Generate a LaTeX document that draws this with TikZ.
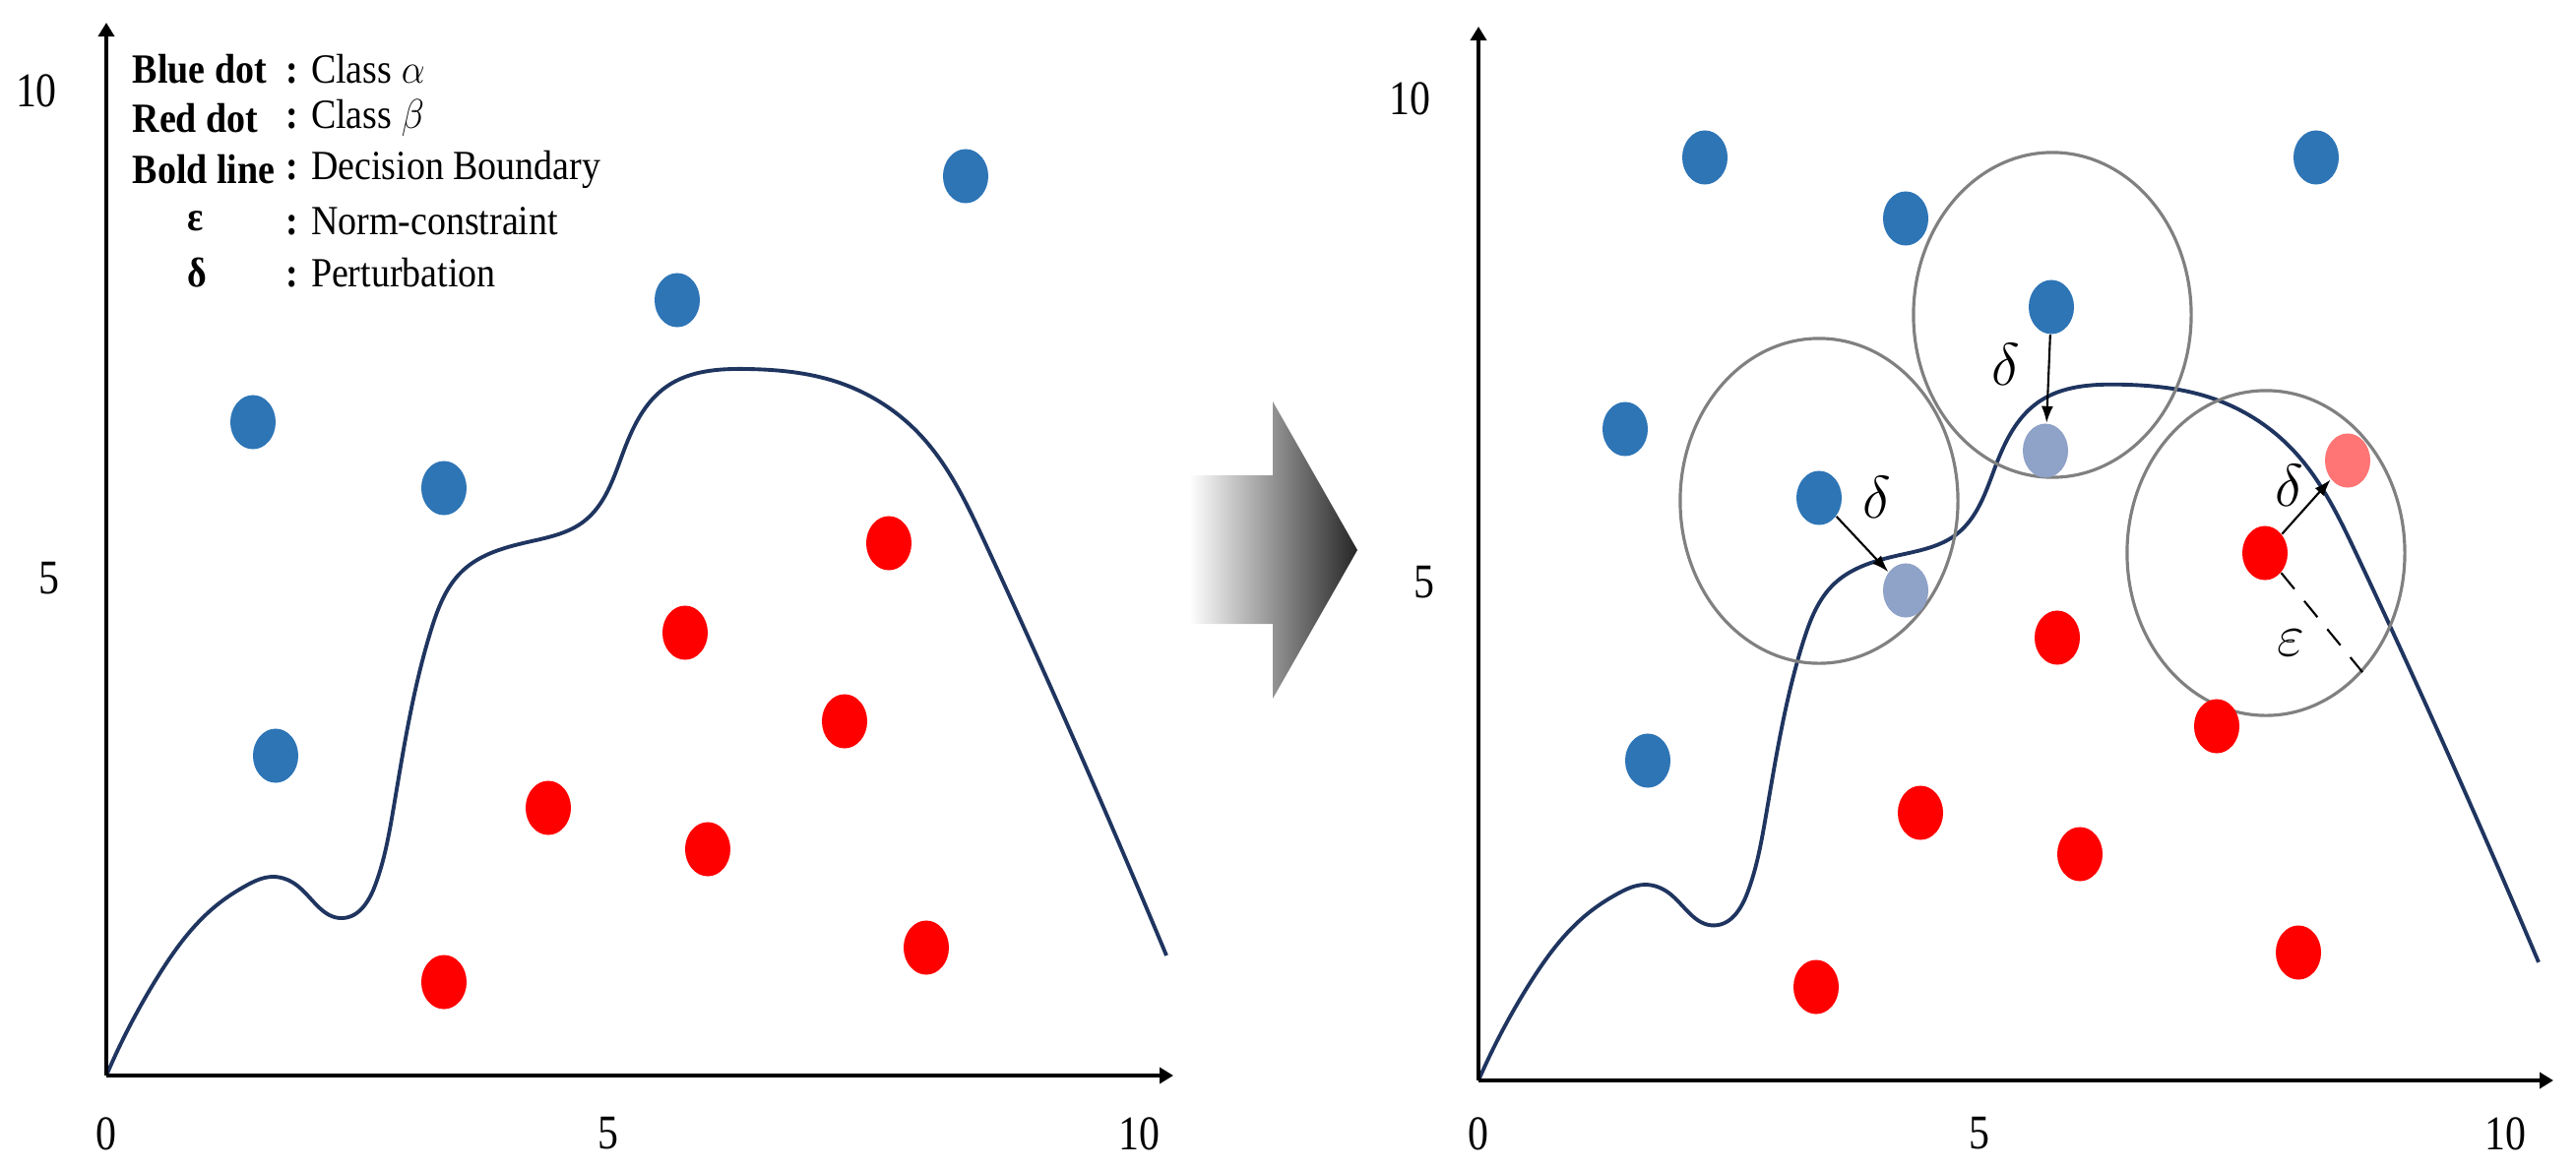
\documentclass[tikz,border=0pt]{standalone}
\usepackage{fontspec}
\setmainfont{Liberation Serif}
\usetikzlibrary{shapes.geometric,arrows.meta,hobby}
\definecolor{dotblue}{HTML}{2E75B6}
\definecolor{dotred}{HTML}{FF0000}
\definecolor{ltblue}{HTML}{8FA2C7}
\definecolor{ltred}{HTML}{FF7575}
\definecolor{bndnavy}{HTML}{1F3560}
\definecolor{ringgray}{HTML}{808080}
\newcommand\bndcurve{(108,1093) .. (160,993) .. (220,920) .. (250,900) .. (277,891) .. (302,900) .. (348,933)
 .. (381,900) .. (400,820) .. (438,640) .. (470,580) .. (540,550) .. (593,530)
 .. (633,460) .. (677,393) .. (760,375) .. (850,388) .. (933,440) .. (1000,550)
 .. (1100,772) .. (1185,971)}
\newcommand\ticklab[1]{\fontsize{14}{16}\selectfont\scalebox{0.85}[1]{#1}}
\newcommand\legtxt[1]{\scalebox{0.9}[1]{#1}}
\begin{document}
\begin{tikzpicture}[x=0.01cm,y=-0.01cm,
  dotbase/.style={ellipse, minimum width=0.46cm, minimum height=0.55cm, inner sep=0pt},
  bdot/.style={dotbase, fill=dotblue},
  rdot/.style={dotbase, fill=dotred},
  lbdot/.style={dotbase, fill=ltblue},
  lrdot/.style={dotbase, fill=ltred},
  axisline/.style={line width=1.1pt, -{Triangle[length=0.14cm,width=0.16cm]}},
  bndline/.style={bndnavy, line width=1.1pt, use Hobby shortcut},
  ring/.style={ellipse, draw=ringgray, line width=0.9pt, minimum width=2.82cm, minimum height=3.3cm, inner sep=0pt},
  parrow/.style={line width=0.6pt, -{Latex[length=0.17cm,width=0.12cm]}},
  tick/.style={inner sep=0pt},
  legname/.style={anchor=west, inner sep=0pt, font=\fontsize{12}{14}\selectfont\bfseries},
  legdesc/.style={anchor=west, inner sep=0pt, font=\fontsize{12}{14}\selectfont},
  greek/.style={inner sep=0pt, font=\fontsize{16}{18}\selectfont}
]
\useasboundingbox (0,0) rectangle (2617,1187);

% ---------- left panel ----------
\coordinate (O1) at (108,1093);
\coordinate (Y1) at (108,23);
\coordinate (X1) at (1192,1093);
\draw[bndline] \bndcurve;
\draw[axisline] (O1) -- (Y1);
\draw[axisline] (O1) -- (X1);
\node[tick] (l0) at (108,1152) {\ticklab{0}};
\node[tick] (l5) at (618,1152) {\ticklab{5}};
\node[tick] (l10) at (1157,1152) {\ticklab{10}};
\node[tick] (ly10) at (37,92) {\ticklab{10}};
\node[tick] (ly5) at (50,588) {\ticklab{5}};

\node[legname] (n1) at (134,70) {\legtxt{Blue dot}};
\node[legname] (n2) at (134,120) {\legtxt{Red dot}};
\node[legname] (n3) at (134,172) {\legtxt{Bold line}};
\node[legname] (n4) at (190,225) {\legtxt{ε}};
\node[legname] (n5) at (190,277) {\legtxt{δ}};
\node[legdesc] (d1) at (290,70) {\legtxt{\textbf{:} Class $\alpha$}};
\node[legdesc] (d2) at (290,120) {\legtxt{\textbf{:} Class $\beta$}};
\node[legdesc] (d3) at (290,172) {\legtxt{\textbf{:} Decision Boundary}};
\node[legdesc] (d4) at (290,225) {\legtxt{\textbf{:} Norm-constraint}};
\node[legdesc] (d5) at (290,277) {\legtxt{\textbf{:} Perturbation}};

\node[bdot] (lb1) at (981,179) {};
\node[bdot] (lb2) at (688,305) {};
\node[bdot] (lb3) at (257,429) {};
\node[bdot] (lb4) at (451,496) {};
\node[bdot] (lb5) at (280,768) {};
\node[rdot] (lr1) at (903,552) {};
\node[rdot] (lr2) at (696,643) {};
\node[rdot] (lr3) at (858,733) {};
\node[rdot] (lr4) at (557,821) {};
\node[rdot] (lr5) at (719,863) {};
\node[rdot] (lr6) at (941,963) {};
\node[rdot] (lr7) at (451,998) {};

% ---------- transition arrow ----------
\shade[left color=white, middle color=black!35, right color=black!85]
  (1208,483) -- (1293,483) -- (1293,408) -- (1379,559) -- (1293,710)
  -- (1293,634) -- (1208,634) -- cycle;

% ---------- right panel ----------
\coordinate (O2) at (1502,1098);
\coordinate (Y2) at (1502,27);
\coordinate (X2) at (2594,1098);
\begin{scope}[shift={(1502,1098)}, yscale=0.985, shift={(-108,-1093)}]
\draw[bndline] \bndcurve;
\end{scope}
\draw[axisline] (O2) -- (Y2);
\draw[axisline] (O2) -- (X2);
\node[tick] (r0) at (1502,1152) {\ticklab{0}};
\node[tick] (r5) at (2011,1152) {\ticklab{5}};
\node[tick] (r10) at (2545,1152) {\ticklab{10}};
\node[tick] (ry10) at (1432,100) {\ticklab{10}};
\node[tick] (ry5) at (1447,592) {\ticklab{5}};

\node[ring] (c1) at (1848,509) {};
\node[ring] (c2) at (2085,320) {};
\node[ring] (c3) at (2302,562) {};

\node[bdot] (rb1) at (1732,160) {};
\node[bdot] (rb2) at (2353,160) {};
\node[bdot] (rb3) at (1936,222) {};
\node[bdot] (rb4) at (2084,312) {};
\node[bdot] (rb5) at (1651,436) {};
\node[bdot] (rb6) at (1848,506) {};
\node[bdot] (rb7) at (1674,773) {};
\node[lbdot] (rl1) at (2078,458) {};
\node[lbdot] (rl2) at (1936,600) {};
\node[rdot] (rr1) at (2301,562) {};
\node[rdot] (rr2) at (2090,648) {};
\node[rdot] (rr3) at (2252,738) {};
\node[rdot] (rr4) at (1951,826) {};
\node[rdot] (rr5) at (2113,868) {};
\node[rdot] (rr6) at (2335,968) {};
\node[rdot] (rr7) at (1845,1003) {};
\node[lrdot] (rlr) at (2385,468) {};

\draw[parrow] (rb6) -- (rl2);
\draw[parrow] (rb4) -- (rl1);
\draw[parrow] (rr1) -- (rlr);
\draw[dash pattern=on 6pt off 4.5pt, line width=0.6pt] (rr1) -- (c3.-51);

\node[greek] (g1) at (1907,505) {$\delta$};
\node[greek] (g2) at (2038,370) {$\delta$};
\node[greek] (g3) at (2326,493) {$\delta$};
\node[greek] (g4) at (2327,653) {$\varepsilon$};
\end{tikzpicture}
\end{document}
